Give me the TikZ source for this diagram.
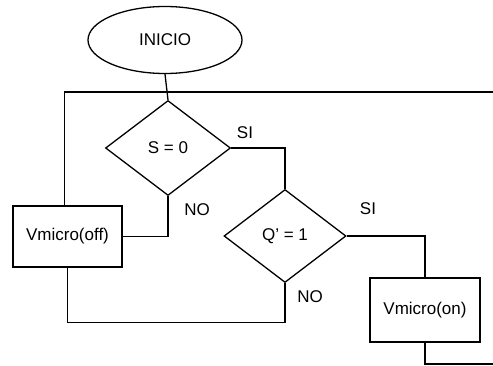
\documentclass[tikz,border=0pt]{standalone}
\usepackage{fontspec}
\setmainfont{Liberation Sans}
\usetikzlibrary{shapes.geometric}
\begin{document}
\begin{tikzpicture}[x=1pt,y=-1pt,
  every node/.style={font=\fontsize{17}{19}\selectfont},
  line/.style={line width=1.3pt},
  term/.style={draw,line width=1.3pt,ellipse,minimum width=154pt,minimum height=67pt,inner sep=0pt},
  decis/.style={draw,line width=1.3pt,diamond,inner sep=0pt},
  proc/.style={draw,line width=1.3pt,rectangle,inner sep=0pt},
  lbl/.style={inner sep=0pt}]
\useasboundingbox (0,0) rectangle (493,366);
\node[term] (inicio) at (165,40) {INICIO};
\node[decis,minimum width=125pt,minimum height=95pt] (s0) at (168,148) {S = 0};
\node[decis,minimum width=122pt,minimum height=93pt] (q1) at (285,236) {Q' = 1};
\node[proc,minimum width=109pt,minimum height=61pt] (off) at (67.5,236.5) {Vmicro(off)};
\node[proc,minimum width=110pt,minimum height=64pt] (on) at (425,310) {Vmicro(on)};
\coordinate (loopR) at (493,92);
\coordinate (endR) at (493,364);
\node[lbl] (si1) at (245,133) {SI};
\node[lbl] (no1) at (197,210) {NO};
\node[lbl] (si2) at (368,209) {SI};
\node[lbl] (no2) at (310,297) {NO};
\draw[line] (inicio.south) -- (s0.north);
\draw[line] (loopR) -- ([xshift=-3pt]off.north |- loopR) -- ([xshift=-3pt]off.north);
\draw[line] (s0.east) -| (q1.north);
\draw[line] (s0.south) |- (off.east);
\draw[line] (off.south) -- ++(0,55) -| (q1.south);
\draw[line] (q1.east) -| (on.north);
\draw[line] (on.south) |- (endR);
\end{tikzpicture}
\end{document}
